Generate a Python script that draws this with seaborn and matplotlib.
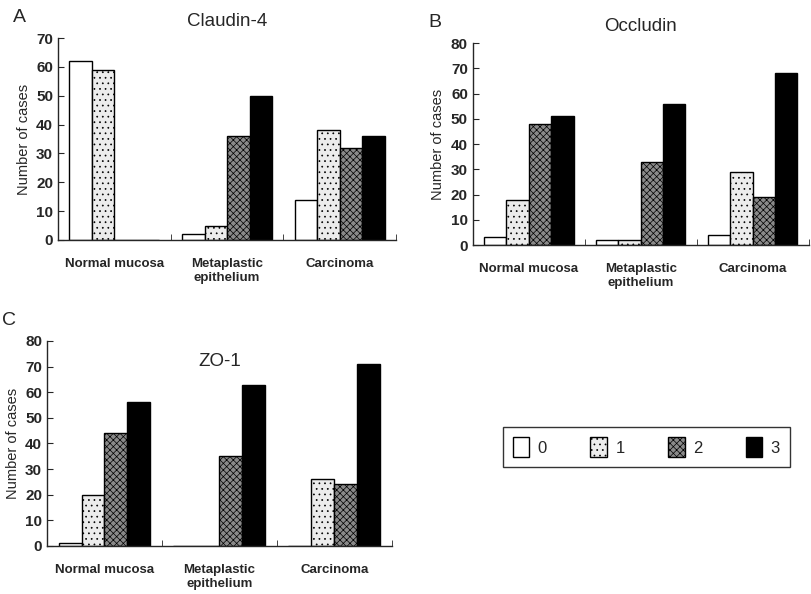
import pandas as pd
import matplotlib
matplotlib.use("Agg")
import matplotlib.pyplot as plt
import seaborn as sns
from matplotlib.patches import Patch

# data
groups = ["Normal mucosa", "Metaplastic\nepithelium", "Carcinoma"]
scores = ["0", "1", "2", "3"]

claudin4 = [[62, 59, 0, 0], [2, 5, 36, 50], [14, 38, 32, 36]]
occludin = [[3, 18, 48, 51], [2, 2, 33, 56], [4, 29, 19, 68]]
zo1 = [[1, 20, 44, 56], [0, 0, 35, 63], [0, 26, 24, 71]]

colors = ["white", "#ececec", "#8a8a8a", "black"]
hatches = ["", "...", "xxxxx", ""]


def to_long(vals):
    rows = []
    for g, row in zip(groups, vals):
        for s, v in zip(scores, row):
            rows.append({"group": g, "score": s, "cases": v})
    return pd.DataFrame(rows)


sns.set_style("ticks")
plt.rcParams["font.family"] = ["Liberation Sans", "DejaVu Sans"]
plt.rcParams["hatch.linewidth"] = 0.5

fig = plt.figure(figsize=(8.11, 5.94), dpi=100)

# panel positions in figure fractions
panels = [
    ("A", "Claudin-4", claudin4, [0.0715, 0.596, 0.417, 0.34], 70),
    ("B", "Occludin", occludin, [0.583, 0.5875, 0.414, 0.34], 80),
    ("C", "ZO-1", zo1, [0.058, 0.081, 0.425, 0.345], 80),
]

for letter, title, vals, pos, ymax in panels:
    ax = fig.add_axes(pos)
    df = to_long(vals)
    sns.barplot(data=df, x="group", y="cases", hue="score", palette=colors,
                edgecolor="black", linewidth=1.0, width=0.8, ax=ax, legend=False)
    for cont, h in zip(ax.containers, hatches):
        for bar in cont:
            bar.set_hatch(h)
    ax.set_xlim(-0.5, 2.5)
    ax.set_ylim(0, ymax)
    ax.set_yticks(range(0, ymax + 1, 10))
    ax.set_xlabel("")
    ax.set_ylabel("Number of cases", fontsize=10.5, labelpad=4)
    ax.set_xticks([0, 1, 2])
    ax.set_xticklabels(groups, fontsize=9.5, fontweight="bold")
    ax.tick_params(axis="x", length=0, pad=13)
    ax.set_xticks([0.5, 1.5, 2.5], minor=True)
    ax.tick_params(axis="x", which="minor", direction="in", length=4)
    ax.tick_params(axis="y", direction="in", length=4, labelsize=11)
    for lab in ax.get_yticklabels():
        lab.set_fontweight("bold")
    sns.despine(ax=ax)
    ax.spines["left"].set_linewidth(1.0)
    ax.spines["bottom"].set_linewidth(1.0)
    if title == "ZO-1":
        ax.text(0.5, 0.9, title, transform=ax.transAxes, ha="center",
                va="center", fontsize=13.5)
    else:
        ax.set_title(title, fontsize=13.5, pad=9)
    bb = ax.get_position()
    fig.text(bb.x0 - 0.055, bb.y1 + 0.035, letter, fontsize=14,
             ha="left", va="center")

handles = [Patch(facecolor=c, edgecolor="black", hatch=h, label=s)
           for c, h, s in zip(colors, hatches, scores)]
fig.legend(handles=handles, ncol=4, loc="center",
           bbox_to_anchor=(0.797, 0.247), frameon=True, fancybox=False,
           edgecolor="black", fontsize=12, handlelength=1.0, handleheight=1.5,
           columnspacing=2.6, handletextpad=0.5, borderpad=0.6)

fig.savefig("out.png", dpi=100)
